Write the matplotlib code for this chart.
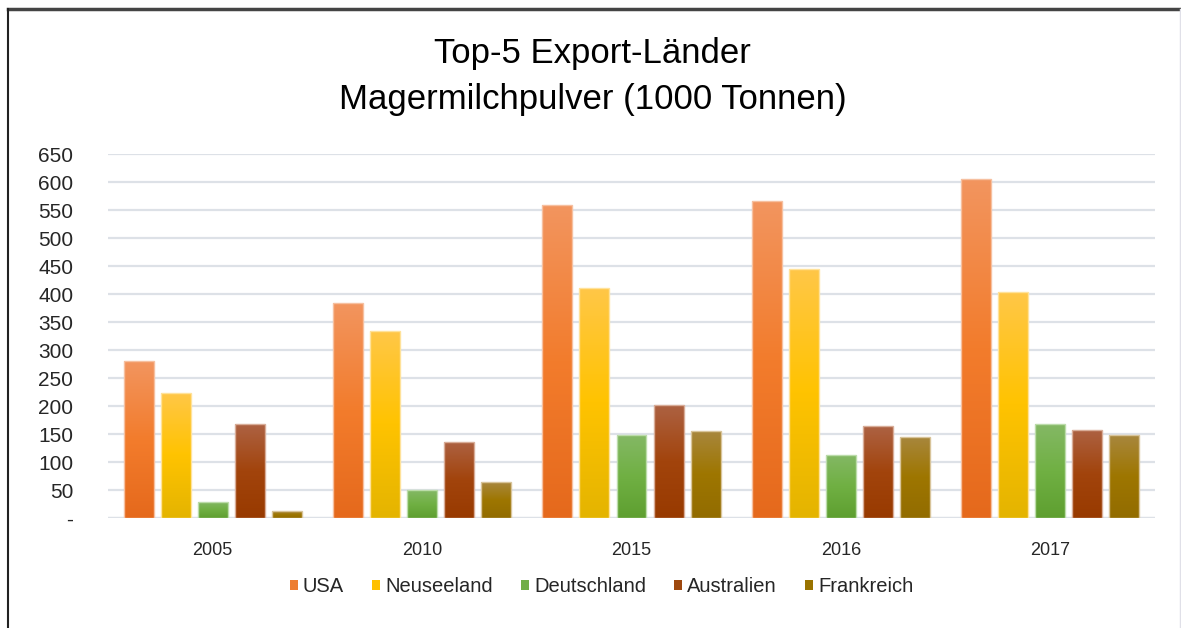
import numpy as np
import matplotlib
matplotlib.use("Agg")
import matplotlib.pyplot as plt
from matplotlib.colors import LinearSegmentedColormap
from matplotlib.patches import Patch
from matplotlib.lines import Line2D

plt.rcParams['font.family'] = ['Liberation Sans', 'DejaVu Sans']

# data (1000 t)
years = ['2005', '2010', '2015', '2016', '2017']
countries = ['USA', 'Neuseeland', 'Deutschland', 'Australien', 'Frankreich']
usa = [280, 384, 559, 566, 606]
nzl = [224, 334, 411, 445, 404]
ger = [29, 50, 148, 113, 167]
aus = [167, 136, 202, 164, 158]
fra = [12, 64, 156, 145, 148]
series = [usa, nzl, ger, aus, fra]

# top, middle, bottom colours of each gradient
grads = [('#f2955f', '#f37c2c', '#e5691c'),
         ('#ffc748', '#ffc300', '#e4b400'),
         ('#84b865', '#70b043', '#5e9f30'),
         ('#ad6243', '#a2440c', '#983a00'),
         ('#a8873e', '#9e7600', '#926c00')]
base = ['#ed7d31', '#ffc000', '#70ad47', '#9e480e', '#997300']
edges = ['#f6c0a0', '#ffe29a', '#bcdcaa', '#d8ad98', '#d8c49a']

fig = plt.figure(figsize=(11.81, 6.28), dpi=100)
ax = fig.add_axes([108/1181, 1-518/628, (1155-108)/1181, (518-154)/628])

x = np.arange(len(years))
pitch = 0.177
w = 0.143
grad = np.linspace(1, 0, 256).reshape(-1, 1)

for j, vals in enumerate(series):
    cmap = LinearSegmentedColormap.from_list('g%d' % j, [grads[j][2], grads[j][1], grads[j][0]])
    bars = ax.bar(x + (j - 2) * pitch, vals, w, facecolor='none',
                  edgecolor=edges[j], lw=1.0, zorder=3)
    for b, v in zip(bars, vals):
        x0 = b.get_x()
        im = ax.imshow(grad, cmap=cmap, extent=(x0, x0 + w, 0, v), aspect='auto',
                       vmin=0, vmax=1, zorder=2, interpolation='bilinear')
        im.set_clip_path(b)

ax.set_xlim(-0.5, 4.5)
ax.set_ylim(0, 650)
yt = np.arange(0, 651, 50)
ax.set_yticks(yt)
ax.set_yticklabels(['-'] + [str(v) for v in yt[1:]])
ax.set_xticks(x)
ax.set_xticklabels(years)
ax.tick_params(axis='y', length=0, labelsize=15, colors='#262626', pad=25)
ax.tick_params(axis='x', length=0, labelsize=13, colors='#262626', pad=17)
for s in ax.spines.values():
    s.set_visible(False)
ax.set_axisbelow(True)
ax.grid(axis='y', color='#dde1e7', lw=1.6)
ax.axhline(0, color='#dde1e7', lw=1.6, zorder=1)

fig.text(0.502, 1-54/628, 'Top-5 Export-Länder', ha='center', va='center', fontsize=25, color='black')
fig.text(0.502, 1-100/628, 'Magermilchpulver (1000 Tonnen)', ha='center', va='center', fontsize=25, color='black')

handles = [Patch(facecolor=c, edgecolor='none') for c in base]
fig.legend(handles, countries, loc='center', bbox_to_anchor=(601.5/1181, 1-587/628), ncol=5,
           frameon=False, fontsize=14.5, handlelength=0.4, handleheight=0.4,
           handletextpad=0.25, columnspacing=1.4, labelcolor='#262626')

# outer frame
fig.add_artist(Line2D([8/1181, 1180/1181], [1-9/628, 1-9/628], color='#444444', lw=2.5))
fig.add_artist(Line2D([8/1181, 8/1181], [0, 1-9/628], color='#222222', lw=1.5))
fig.add_artist(Line2D([1179.5/1181, 1179.5/1181], [0, 1-9/628], color='#e0e0e8', lw=1))

fig.savefig('out.png', dpi=100)
